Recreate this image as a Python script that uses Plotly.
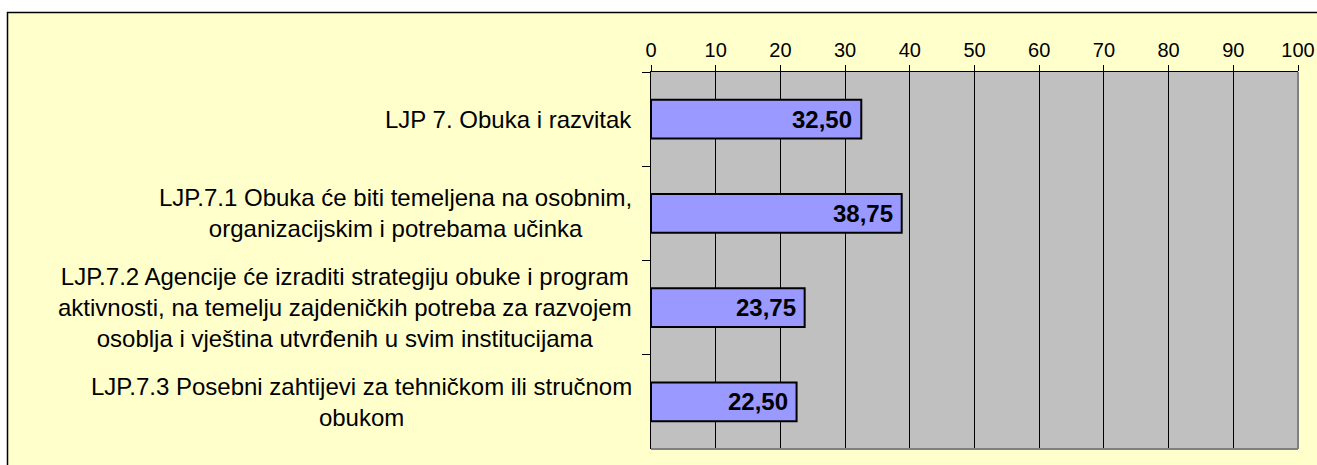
import plotly.graph_objects as go

categories = [
    "LJP 7. Obuka i razvitak",
    "LJP.7.1 Obuka će biti temeljena na osobnim,<br>organizacijskim i potrebama učinka",
    "LJP.7.2 Agencije će izraditi strategiju obuke i program<br>aktivnosti, na temelju zajdeničkih potreba za razvojem<br>osoblja i vještina utvrđenih u svim institucijama",
    "LJP.7.3 Posebni zahtijevi za tehničkom ili stručnom<br>obukom",
]
values = [32.50, 38.75, 23.75, 22.50]
x_ticks = [0, 10, 20, 30, 40, 50, 60, 70, 80, 90, 100]

W, H = 1317, 465
L, R, T, B = 651, 1298, 72, 449
FONT = "Liberation Sans, Arial, sans-serif"

fig = go.Figure()
fig.add_trace(go.Bar(
    x=values, y=categories, orientation="h",
    marker=dict(color="#9999FF", line=dict(color="black", width=2)),
    width=0.41, hoverinfo="skip",
))

pw, ph = R - L, B - T

def px2x(p):
    return (p - L) / pw

def px2y(p):
    return 1 - (p - T) / ph

shapes = [
    # white page outside chart area
    dict(type="rect", xref="paper", yref="paper", layer="below",
         x0=px2x(-5), x1=px2x(W + 5), y0=px2y(H + 5), y1=px2y(-5),
         fillcolor="white", line=dict(width=0)),
    # chart area background with border
    dict(type="rect", xref="paper", yref="paper", layer="below",
         x0=px2x(7.5), x1=px2x(W + 20), y0=px2y(H + 20), y1=px2y(12.5),
         fillcolor="#FFFFCC", line=dict(color="black", width=1.5)),
    # plot area
    dict(type="rect", xref="paper", yref="paper", layer="below",
         x0=0, x1=1, y0=0, y1=1, fillcolor="#C0C0C0", line=dict(width=0)),
    # plot area shadow border right/bottom
    dict(type="line", xref="paper", yref="paper", x0=1, x1=1, y0=0, y1=1,
         line=dict(color="#808080", width=2)),
    dict(type="line", xref="paper", yref="paper", x0=0, x1=1, y0=0, y1=0,
         line=dict(color="#808080", width=2)),
]

annotations = []
for c in categories:
    annotations.append(dict(
        x=px2x(634), xref="paper", y=c, yref="y", text=c, showarrow=False,
        xanchor="right", yanchor="middle", align="center",
        font=dict(family=FONT, size=24, color="black"),
    ))
for c, v in zip(categories, values):
    annotations.append(dict(
        x=v, xref="x", y=c, yref="y", text="<b>" + f"{v:.2f}".replace(".", ",") + "</b>",
        showarrow=False, xanchor="right", yanchor="middle", xshift=-7,
        font=dict(family=FONT, size=24, color="black"),
    ))

fig.update_layout(
    width=W, height=H,
    margin=dict(l=L, r=W - R, t=T, b=H - B, pad=0, autoexpand=False),
    paper_bgcolor="white", plot_bgcolor="#C0C0C0",
    showlegend=False,
    shapes=shapes, annotations=annotations,
    font=dict(family=FONT, size=20, color="black"),
    xaxis=dict(
        side="top", range=[0, 100], tickvals=x_ticks, ticktext=[str(t) for t in x_ticks],
        showgrid=True, gridcolor="black", gridwidth=1,
        showline=True, linecolor="black", linewidth=1,
        ticks="outside", ticklen=6, tickcolor="black", tickwidth=1,
        tickfont=dict(family=FONT, size=20, color="black"),
        zeroline=False, fixedrange=True, automargin=False,
    ),
    yaxis=dict(
        categoryorder="array", categoryarray=categories, autorange="reversed",
        showticklabels=False, tickson="boundaries",
        ticks="outside", ticklen=8, tickcolor="black", tickwidth=1,
        showline=True, linecolor="black", linewidth=1,
        showgrid=False, zeroline=False, fixedrange=True, automargin=False,
    ),
)

fig.write_html(
    "out.html",
    config={"displayModeBar": False},
    post_script="document.body.style.margin='0';document.body.style.overflow='hidden';",
)
